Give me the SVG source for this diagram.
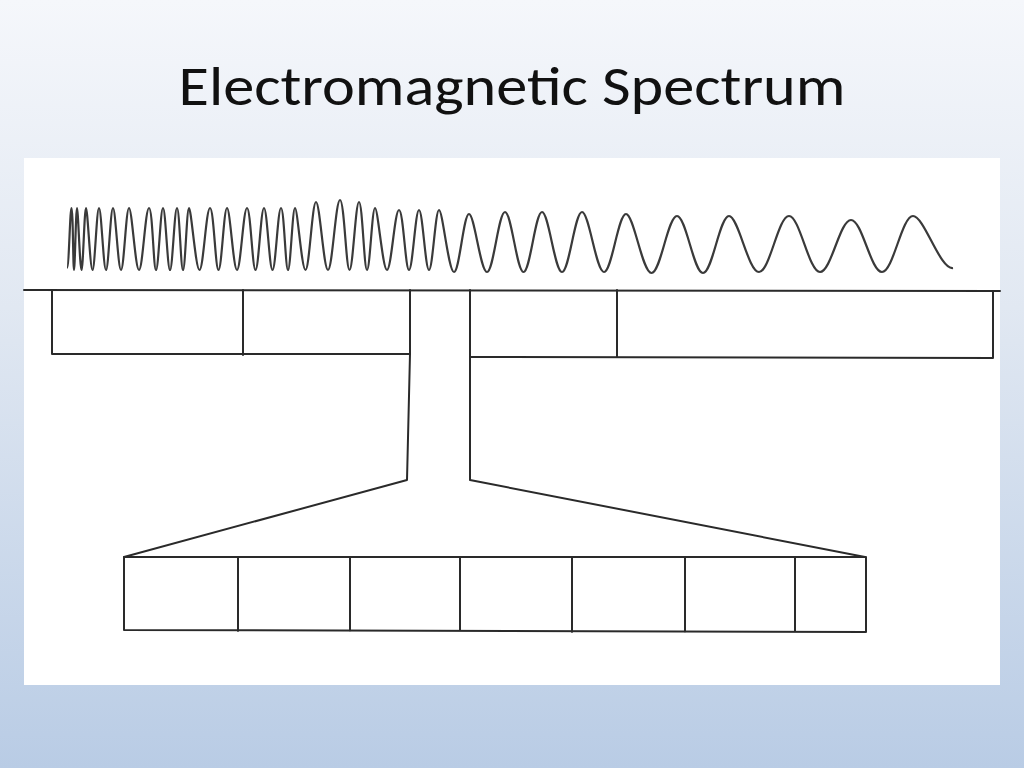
<svg xmlns="http://www.w3.org/2000/svg" width="1024" height="768" viewBox="0 0 1024 768">
<defs>
<linearGradient id="bg" x1="0" y1="0" x2="0" y2="1">
<stop offset="0" stop-color="#f5f7fb"/><stop offset="0.4" stop-color="#e1e8f2"/><stop offset="1" stop-color="#b9cce5"/>
</linearGradient>
</defs>
<style>
.ln{fill:none;stroke:#2a2a2a;stroke-width:2;stroke-linecap:round;stroke-linejoin:round}
.w{fill:none;stroke:#3a3a3a;stroke-width:2.2}
</style>
<rect width="1024" height="768" fill="url(#bg)"/>
<text x="512" y="105" text-anchor="middle" font-family="Carlito, 'Liberation Sans', sans-serif" font-size="56" fill="#111" textLength="667" lengthAdjust="spacingAndGlyphs">Electromagnetic Spectrum</text>
<rect x="24" y="158" width="976" height="527" fill="#fff"/>
<path class="w" d="M67,268 C69,268 70,208 71.5,208 S73.1,270 74,270 S75.9,208 77,208 S79.9,270 81.5,270 S84.4,208 86,208 S90.2,270 92.5,270 S96.7,208 99,208 S103.5,270 106,270 S110.5,208 113,208 S118.1,270 121,270 S126.1,208 129,208 S135.4,270 139,270 S145.4,208 149,208 S153.5,270 156,270 S160.5,208 163,208 S167.5,270 170,270 S174.5,208 177,208 S180.8,270 183,270 S186.8,208 189,208 S195.7,270 199.5,270 S206.2,208 210,208 S215.4,270 218.5,270 S223.9,208 227,208 S233.4,270 237,270 S243.4,208 247,208 S252.4,270 255.5,270 S260.9,208 264,208 S269.4,270 272.5,270 S277.9,208 281,208 S285.5,270 288,270 S292.5,208 295,208 S301.7,270 305.5,270 S312.2,202 316,202 S323.7,270 328,270 S335.7,200 340,200 S346.1,270 349.5,270 S355.6,202 359,202 S364.1,270 367,270 S372.1,208 375,208 S382.7,270 387,270 S394.7,210 399,210 S405.4,270 409,270 S415.4,210 419,210 S425.4,270 429,270 S435.4,210 439,210 S448.6,272 454,272 S463.6,214 469,214 S480.5,272 487,272 S498.5,212 505,212 S516.8,272 523.5,272 S535.3,212 542,212 S554.8,272 562,272 S574.8,212 582,212 S596.1,272 604,272 S618.1,214 626,214 S642.3,273 651.5,273 S667.8,216 677,216 S693.6,273 703,273 S719.6,216 729,216 S748.2,272 759,272 S778.2,216 789,216 S808.8,272 820,272 S839.8,220 851,220 S870.8,272 882,272 S901.8,216 913,216 S940,270 953,268"/>
<g id="top-boxes">
<line class="ln" x1="24" y1="290" x2="1000" y2="291" stroke="#555"/>
<path class="ln" d="M52,290 L52,354 L410,354 M243,290 L243,355 M410,290 L410,354"/>
<path class="ln" d="M470,290 L470,357 L993,358 L993,291 M617,290 L617,356"/>
</g>
<g id="funnel">
<path class="ln" d="M410,354 L407,480 L124,557 M470,357 L470,480 L865,557"/>
</g>
<g id="bottom-boxes">
<path class="ln" d="M124,557 L866,557 L866,632 L124,630 Z M238,557 L238,631 M350,557 L350,631 M460,557 L460,631 M572,557 L572,632 M685,557 L685,632 M795,557 L795,632"/>
</g>
</svg>
